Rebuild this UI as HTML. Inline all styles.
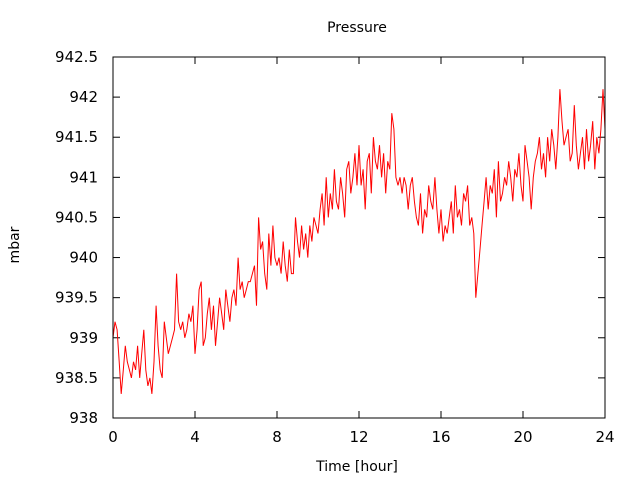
<!DOCTYPE html>
<html><head><meta charset="utf-8"><style>
body{margin:0;background:#fff;}
svg{display:block;font-family:"DejaVu Sans","Liberation Sans",sans-serif;}
</style></head><body>
<svg id="chart" width="640" height="480" viewBox="0 0 640 480" xmlns="http://www.w3.org/2000/svg">
<rect x="0" y="0" width="640" height="480" fill="#fff"/>
<text x="357" y="32" font-size="14" text-anchor="middle" fill="#000">Pressure</text>
<text x="19" y="245" font-size="14" text-anchor="middle" transform="rotate(-90 19 245)" fill="#000">mbar</text>
<text x="357" y="471" font-size="14" text-anchor="middle" fill="#000">Time [hour]</text>
<g id="axes"></g>
<polyline id="series" fill="none" stroke="#f00" stroke-width="1"/>
<rect x="113" y="57" width="492" height="361" fill="none" stroke="#000" stroke-width="1"/>
</svg>
<script>
const xTicks=[0,4,8,12,16,20,24];
const yTicks=[938,938.5,939,939.5,940,940.5,941,941.5,942,942.5];
const yTickLabels=["938","938.5","939","939.5","940","940.5","941","941.5","942","942.5"];
const timeStep=0.1;
const pressure=[
939.0,939.2,939.1,938.7,938.3,938.6,938.9,938.7,938.6,938.5,
938.7,938.6,938.9,938.5,938.8,939.1,938.6,938.4,938.5,938.3,
938.7,939.4,938.9,938.6,938.5,939.2,939.0,938.8,938.9,939.0,
939.1,939.8,939.2,939.1,939.2,939.0,939.1,939.3,939.2,939.4,
938.8,939.1,939.6,939.7,938.9,939.0,939.3,939.5,939.1,939.4,
938.9,939.2,939.5,939.3,939.1,939.6,939.4,939.2,939.5,939.6,
939.4,940.0,939.6,939.7,939.5,939.6,939.7,939.7,939.8,939.9,
939.4,940.5,940.1,940.2,939.8,939.6,940.3,939.9,940.4,940.0,
939.9,940.0,939.8,940.2,939.9,939.7,940.1,939.8,939.8,940.5,
940.2,940.0,940.4,940.1,940.3,940.0,940.4,940.2,940.5,940.4,
940.3,940.6,940.8,940.4,941.0,940.5,940.8,940.6,941.1,940.7,
940.6,941.0,940.8,940.5,941.1,941.2,940.8,941.0,941.3,940.9,
941.4,940.9,941.1,940.6,941.2,941.3,940.8,941.5,941.2,941.1,
941.4,941.0,941.3,940.8,941.2,941.1,941.8,941.6,941.0,940.9,
941.0,940.8,941.0,940.9,940.6,940.9,941.0,940.7,940.5,940.4,
940.8,940.3,940.6,940.5,940.9,940.7,940.6,941.0,940.6,940.3,
940.6,940.2,940.4,940.3,940.5,940.7,940.3,940.9,940.5,940.6,
940.4,940.8,940.7,940.9,940.4,940.5,940.3,939.5,939.8,940.1,
940.4,940.7,941.0,940.6,940.9,940.8,941.1,940.5,941.2,940.7,
940.8,941.0,940.9,941.2,941.0,940.7,941.1,941.0,941.3,940.9,
940.7,941.4,941.2,941.0,940.6,941.0,941.2,941.3,941.5,941.1,
941.3,941.0,941.5,941.2,941.6,941.4,941.1,941.5,942.1,941.7,
941.4,941.5,941.6,941.2,941.3,941.9,941.4,941.1,941.3,941.5,
941.1,941.6,941.2,941.4,941.7,941.1,941.5,941.3,941.6,942.1,
941.6];
const X0=113,X1=605,Y0=418,Y1=57;
function xs(t){return X0+(t-0)/(24-0)*(X1-X0);}
function ys(v){return Y0-(v-938)/(942.5-938)*(Y0-Y1);}
const NS="http://www.w3.org/2000/svg";
const axes=document.getElementById('axes');
function mk(tag,attrs){const e=document.createElementNS(NS,tag);for(const k in attrs)e.setAttribute(k,attrs[k]);return e;}
xTicks.forEach(t=>{
  const x=xs(t);
  const l1=mk('line',{x1:x,y1:Y0,x2:x,y2:Y0-7,stroke:'#000'});
  
  
  axes.appendChild(l1);
  const l2=mk('line',{x1:x,y1:Y1,x2:x,y2:Y1+7,stroke:'#000'});
  
  
  axes.appendChild(l2);
  const tx=mk('text',{x:x,y:442,'font-size':15,'text-anchor':'middle',fill:'#000'});
  tx.textContent=String(t);
  
  
  axes.appendChild(tx);
});
yTicks.forEach((v,i)=>{
  const y=ys(v);
  const l1=mk('line',{x1:X0,y1:y,x2:X0+7,y2:y,stroke:'#000'});
  
  
  axes.appendChild(l1);
  const l2=mk('line',{x1:X1,y1:y,x2:X1-7,y2:y,stroke:'#000'});
  
  
  axes.appendChild(l2);
  const tx=mk('text',{x:98,y:y+5,'font-size':15,'text-anchor':'end',fill:'#000'});
  tx.textContent=yTickLabels[i];
  
  
  axes.appendChild(tx);
});
document.getElementById('series').setAttribute('points',pressure.map((v,i)=>xs(i*timeStep).toFixed(1)+','+ys(v).toFixed(1)).join(' '));
</script>
</body></html>
